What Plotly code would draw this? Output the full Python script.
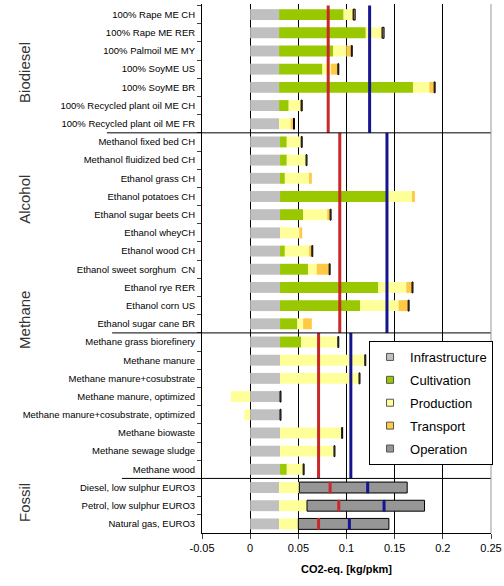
import plotly.graph_objects as go

# rows from top to bottom
categories = [
    "100% Rape ME CH", "100% Rape ME RER", "100% Palmoil ME MY", "100% SoyME US",
    "100% SoyME BR", "100% Recycled plant oil ME CH", "100% Recycled plant oil ME FR",
    "Methanol fixed bed CH", "Methanol fluidized bed CH", "Ethanol grass CH",
    "Ethanol potatoes CH", "Ethanol sugar beets CH", "Ethanol wheyCH", "Ethanol wood CH",
    "Ethanol sweet sorghum  CN", "Ethanol rye RER", "Ethanol corn US", "Ethanol sugar cane BR",
    "Methane grass biorefinery", "Methane manure", "Methane manure+cosubstrate",
    "Methane manure, optimized", "Methane manure+cosubstrate, optimized",
    "Methane biowaste", "Methane sewage sludge", "Methane wood",
    "Diesel, low sulphur EURO3", "Petrol, low sulphur EURO3", "Natural gas, EURO3",
]

infrastructure = [0.030] * 7 + [0.031] * 11 + [0.031] * 8 + [0.030] * 3
cultivation = [0.067, 0.090, 0.056, 0.045, 0.139, 0.010, 0.0,
               0.007, 0.007, 0.005, 0.110, 0.024, 0.0, 0.005, 0.029, 0.102, 0.083, 0.018,
               0.022, 0.0, 0.0, 0.0, 0.0, 0.0, 0.0, 0.007,
               0.0, 0.0, 0.0]
production = [0.009, 0.016, 0.014, 0.009, 0.017, 0.012, 0.012,
              0.015, 0.020, 0.025, 0.027, 0.025, 0.020, 0.026, 0.009, 0.029, 0.040, 0.006,
              0.038, 0.088, 0.082, -0.020, -0.006, 0.064, 0.056, 0.017,
              0.021, 0.029, 0.020]
transport = [0.001, 0.001, 0.005, 0.007, 0.005, 0.001, 0.003,
             0.0, 0.0, 0.003, 0.003, 0.003, 0.003, 0.002, 0.013, 0.006, 0.010, 0.009,
             0.0, 0.0, 0.0, 0.0, 0.0, 0.0, 0.0, 0.0,
             0.0, 0.0, 0.0]
operation = [0.002, 0.002, 0.001, 0.001, 0.001, 0.001, 0.001,
             0.001, 0.001, 0.0, 0.0, 0.001, 0.0, 0.001, 0.001, 0.001, 0.001, 0.0,
             0.001, 0.001, 0.001, 0.001, 0.001, 0.001, 0.001, 0.001,
             0.112, 0.122, 0.094]

groups = ["Biodiesel", "Alcohol", "Methane", "Fossil"]
group_rows = [(0, 6), (7, 17), (18, 25), (26, 28)]
group_label_y = [0.870, 0.630, 0.403, 0.057]
separator_start = [-0.329, -0.311, -0.277]

# reference lines per biofuel group, and per fossil row
red_group = [0.081, 0.093, 0.071]
blue_group = [0.124, 0.142, 0.1045]
red_fossil = [0.083, 0.092, 0.071]
blue_fossil = [0.122, 0.139, 0.103]

series = [
    ("Infrastructure", infrastructure, "#C0C0C0"),
    ("Cultivation", cultivation, "#99C800"),
    ("Production", production, "#FFFF99"),
    ("Transport", transport, "#FFC845"),
    ("Operation", operation, "#969696"),
]

fig = go.Figure()
for name, vals, col in series:
    vals = [v if v else None for v in vals]
    lw = 1 if name == "Operation" else 0
    fig.add_trace(go.Bar(y=categories, x=vals, name=name, orientation="h", showlegend=False,
                         hoverinfo="skip",
                         marker=dict(color=col, line=dict(color="black", width=lw))))
# small square legend keys like the original
for name, vals, col in series:
    fig.add_trace(go.Scatter(x=[None], y=[None], mode="markers", name=name, legendgroup=name,
                             marker=dict(symbol="square", size=7, color=col,
                                         line=dict(color="#555555", width=1))))

shapes = []
red, blue = "#C8282A", "#15158F"
for (a, b), r, bl in zip(group_rows[:3], red_group, blue_group):
    for xv, c in ((r, red), (bl, blue)):
        shapes.append(dict(type="line", xref="x", yref="y", x0=xv, x1=xv,
                           y0=a - 0.5, y1=b + 0.5, line=dict(color=c, width=3)))
a = group_rows[3][0]
for k, (r, bl) in enumerate(zip(red_fossil, blue_fossil)):
    for xv, c in ((r, red), (bl, blue)):
        shapes.append(dict(type="line", xref="x", yref="y", x0=xv, x1=xv,
                           y0=a + k - 0.32, y1=a + k + 0.32, line=dict(color=c, width=3)))
for (a, b), xs in zip(group_rows[:3], separator_start):
    shapes.append(dict(type="line", xref="paper", yref="y", x0=xs, x1=1,
                       y0=b + 0.5, y1=b + 0.5, line=dict(color="black", width=1)))
shapes.append(dict(type="line", xref="paper", yref="paper", x0=1, x1=1, y0=0, y1=1,
                   line=dict(color="#999999", width=1)))

annotations = [dict(text=g, x=-0.612, y=yy, xref="paper", yref="paper", textangle=-90,
                    xanchor="center", yanchor="middle", showarrow=False,
                    font=dict(size=15, color="#333333"))
               for g, yy in zip(groups, group_label_y)]

fig.update_layout(barmode="relative", bargap=0.4, width=504, height=586,
                  margin=dict(l=202, r=13, t=4, b=53),
                  font_family="Arial, Liberation Sans", font_color="black",
                  plot_bgcolor="white", paper_bgcolor="white",
                  shapes=shapes, annotations=annotations,
                  legend=dict(x=0.578, y=0.363, xanchor="left", yanchor="top",
                              bordercolor="black", borderwidth=1, bgcolor="white",
                              font=dict(size=13), itemwidth=30, tracegroupgap=3,
                              traceorder="grouped"))

fig.update_xaxes(range=[-0.05, 0.25], tickvals=[-0.05, 0, 0.05, 0.1, 0.15, 0.2, 0.25],
                 ticktext=["-0.05", "0", "0.05", "0.1", "0.15", "0.2", "0.25"],
                 showgrid=True, gridcolor="black", gridwidth=1, zeroline=True,
                 zerolinecolor="black", zerolinewidth=1, showline=True, linecolor="black",
                 ticks="outside", ticklen=5, tickfont=dict(size=11), automargin=False,
                 title=dict(text="<b>CO2-eq. [kg/pkm]</b>", font=dict(size=11), standoff=12))
fig.update_yaxes(autorange="reversed", showline=True, linecolor="black", ticks="outside",
                 tickson="boundaries", ticklen=4, tickfont=dict(size=9.5), showgrid=False,
                 ticklabelstandoff=4, automargin=False)

# page body has a default 8px margin; drop it so the figure sits at the window corner
fig.write_html("out.html", config={"displayModeBar": False},
               post_script="document.body.style.margin='0';")
